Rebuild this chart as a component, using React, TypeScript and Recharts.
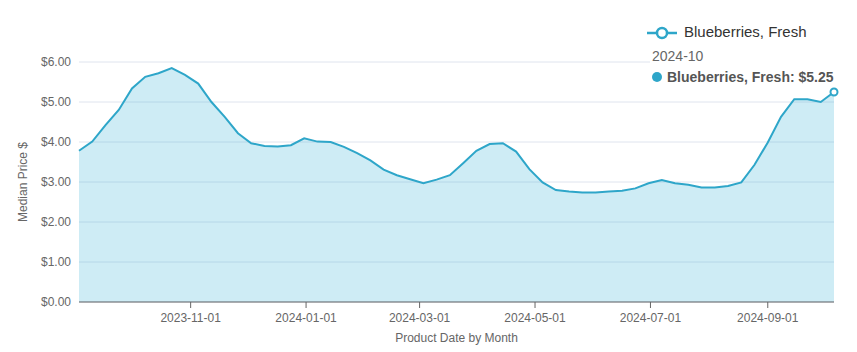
import React from 'react';
import { AreaChart, Area, XAxis, YAxis, CartesianGrid, Tooltip, Legend } from 'recharts';

if (typeof document !== 'undefined') {
  document.body.style.margin = '0';
}

const seriesName = 'Blueberries, Fresh';

const weekDates = [
  '2023-09-03', '2023-09-10', '2023-09-17', '2023-09-24',
  '2023-10-01', '2023-10-08', '2023-10-15', '2023-10-22', '2023-10-29',
  '2023-11-05', '2023-11-12', '2023-11-19', '2023-11-26',
  '2023-12-03', '2023-12-10', '2023-12-17', '2023-12-24', '2023-12-31',
  '2024-01-07', '2024-01-14', '2024-01-21', '2024-01-28',
  '2024-02-04', '2024-02-11', '2024-02-18', '2024-02-25',
  '2024-03-03', '2024-03-10', '2024-03-17', '2024-03-24', '2024-03-31',
  '2024-04-07', '2024-04-14', '2024-04-21', '2024-04-28',
  '2024-05-05', '2024-05-12', '2024-05-19', '2024-05-26',
  '2024-06-02', '2024-06-09', '2024-06-16', '2024-06-23', '2024-06-30',
  '2024-07-07', '2024-07-14', '2024-07-21', '2024-07-28',
  '2024-08-04', '2024-08-11', '2024-08-18', '2024-08-25',
  '2024-09-01', '2024-09-08', '2024-09-15', '2024-09-22', '2024-09-29',
  '2024-10-06',
];

const blueberryPrices = [
  3.78, 4.01, 4.42, 4.80,
  5.34, 5.63, 5.72, 5.85, 5.68,
  5.46, 5.00, 4.63, 4.22,
  3.97, 3.90, 3.89, 3.92, 4.09,
  4.01, 4.00, 3.88, 3.72,
  3.54, 3.31, 3.17, 3.07,
  2.97, 3.06, 3.17, 3.47, 3.78,
  3.95, 3.97, 3.76, 3.32,
  2.99, 2.80, 2.76, 2.74,
  2.74, 2.76, 2.78, 2.84, 2.97,
  3.05, 2.97, 2.93, 2.86,
  2.86, 2.90, 2.99, 3.43,
  3.99, 4.63, 5.07, 5.07, 5.00,
  5.25,
];

const xTickLabels = ['2023-11-01', '2024-01-01', '2024-03-01', '2024-05-01', '2024-07-01', '2024-09-01'];
const yTickValues = [0, 1, 2, 3, 4, 5, 6];

const LINE = '#2ea6c9';
const FONT = '"Liberation Sans", Arial, Helvetica, sans-serif';

const toTs = (s: string) => {
  const [y, m, d] = s.split('-').map(Number);
  return Date.UTC(y, m - 1, d);
};
const pad = (n: number) => String(n).padStart(2, '0');
const fmtDay = (ts: number) => {
  const d = new Date(ts);
  return `${d.getUTCFullYear()}-${pad(d.getUTCMonth() + 1)}-${pad(d.getUTCDate())}`;
};
const fmtMonth = (ts: number) => {
  const d = new Date(ts);
  return `${d.getUTCFullYear()}-${pad(d.getUTCMonth() + 1)}`;
};

const data = weekDates.map((d, i) => ({ t: toTs(d), price: blueberryPrices[i] }));
const xTicks = xTickLabels.map(toTs);

const TipContent = (props: any) => {
  const { active, payload } = props;
  if (!active || !payload || !payload.length) return null;
  const p = payload[0];
  const ts = Number(p.payload.t);
  return (
    <div style={{ background: '#fff', padding: '4px 8px 1px 2px', fontFamily: FONT, fontSize: 14, whiteSpace: 'nowrap' }}>
      <div style={{ color: '#666', lineHeight: '16px', marginBottom: 5 }}>{fmtMonth(ts)}</div>
      <div style={{ display: 'flex', alignItems: 'center', lineHeight: '16px', fontWeight: 700, color: '#555' }}>
        <span style={{ width: 10, height: 10, borderRadius: 5, background: LINE, marginRight: 5, display: 'inline-block' }} />
        {`${p.name}: $${Number(p.value).toFixed(2)}`}
      </div>
    </div>
  );
};

const LegendContent = () => (
  <div style={{ display: 'flex', alignItems: 'center', fontFamily: FONT, fontSize: 15, color: '#333', whiteSpace: 'nowrap' }}>
    <svg width={32} height={14} style={{ marginTop: 3 }}>
      <line x1={1} y1={7} x2={31} y2={7} stroke={LINE} strokeWidth={2.5} />
      <circle cx={16} cy={7} r={5} fill="#fff" stroke={LINE} strokeWidth={2.5} />
    </svg>
    <span style={{ marginLeft: 6 }}>{seriesName}</span>
  </div>
);

export default function App() {
  return (
    <div style={{ width: 857, height: 352, fontFamily: FONT }}>
      <AreaChart width={857} height={352} data={data} margin={{ top: 62, right: 23, bottom: 0, left: 0 }}>
        <CartesianGrid vertical={false} stroke="#dfe4ee" />
        <XAxis
          dataKey="t"
          type="number"
          scale="time"
          domain={['dataMin', 'dataMax']}
          ticks={xTicks}
          interval={0}
          tickFormatter={fmtDay}
          axisLine={{ stroke: '#666' }}
          tickLine={{ stroke: '#666' }}
          tick={{ fill: '#666', fontSize: 12 }}
          tickMargin={5}
          height={50}
          label={{ value: 'Product Date by Month', position: 'insideBottom', offset: 10, fill: '#666', fontSize: 12 }}
        />
        <YAxis
          domain={[0, 6]}
          ticks={yTickValues}
          tickFormatter={(v: number) => `$${v.toFixed(2)}`}
          axisLine={false}
          tickLine={false}
          tick={{ fill: '#666', fontSize: 12 }}
          width={79}
          label={{ value: 'Median Price $', angle: -90, position: 'insideLeft', offset: 23, fill: '#666', fontSize: 12, style: { textAnchor: 'middle' } }}
        />
        <Legend
          layout="horizontal"
          verticalAlign="middle"
          align="center"
          content={<LegendContent />}
          wrapperStyle={{ left: 646, top: 23, width: 'auto' }}
        />
        <Tooltip
          defaultIndex={57}
          position={{ x: 650, y: 44 }}
          cursor={false}
          isAnimationActive={false}
          content={<TipContent />}
          wrapperStyle={{ outline: 'none' }}
        />
        <Area
          type="linear"
          dataKey="price"
          name={seriesName}
          stroke={LINE}
          strokeWidth={2}
          fill="#3db5d6"
          fillOpacity={0.25}
          dot={false}
          activeDot={{ r: 3.5, fill: '#fff', stroke: LINE, strokeWidth: 2 }}
          isAnimationActive={false}
        />
      </AreaChart>
    </div>
  );
}
